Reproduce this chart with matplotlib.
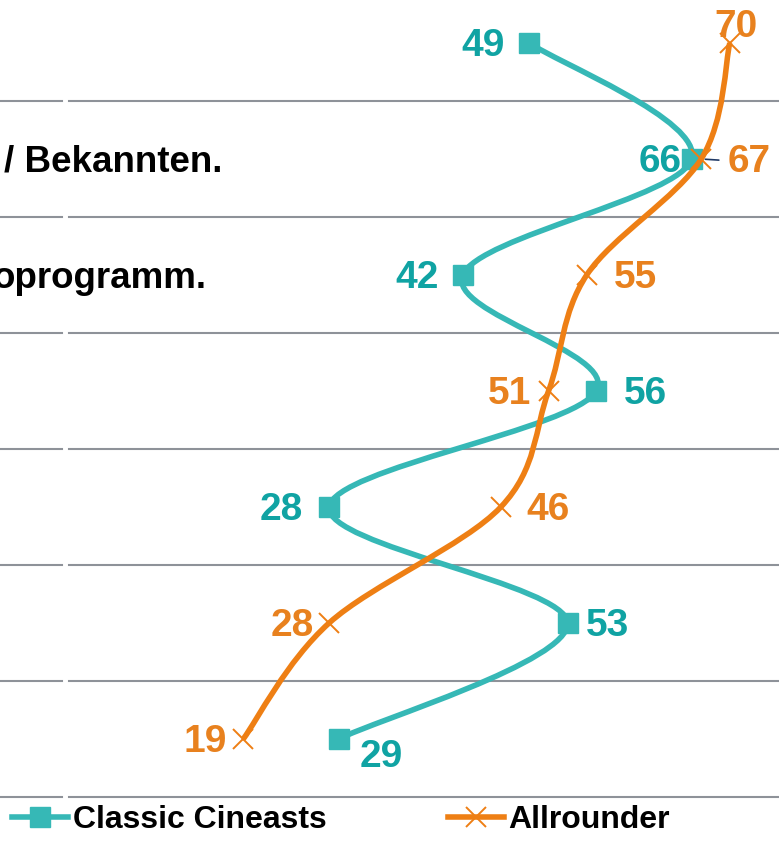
import numpy as np
import matplotlib.pyplot as plt
from matplotlib.path import Path
from matplotlib.patches import PathPatch
from matplotlib.lines import Line2D

plt.rcParams['font.family'] = ['Liberation Sans', 'DejaVu Sans']
plt.rcParams['font.weight'] = 'bold'

# one row per statement, top to bottom
rows = np.arange(7)
classic = [49, 66, 42, 56, 28, 53, 29]
allround = [70, 67, 55, 51, 46, 28, 19]
row_text = {1: "/ Bekannten.", 2: "oprogramm."}
series_names = ["Classic Cineasts", "Allrounder"]

teal_line = "#36B8B6"
teal_text = "#10A3A3"
orange_line = "#EE7F14"
orange_text = "#E8811E"
grid_col = "#8E9299"

W, H = 779, 844
x0_px, px_per = 62, 9.54
row0_px, row_px = 43, 116


def smooth_path(xs, ys):
    # catmull-rom style bezier through the points (like office "smoothed line")
    pts = np.column_stack([xs, ys]).astype(float)
    n = len(pts)
    verts = [pts[0]]
    codes = [Path.MOVETO]
    for i in range(n - 1):
        p0 = pts[max(i - 1, 0)]
        p1 = pts[i]
        p2 = pts[i + 1]
        p3 = pts[min(i + 2, n - 1)]
        verts += [p1 + (p2 - p0) / 6, p2 - (p3 - p1) / 6, p2]
        codes += [Path.CURVE4] * 3
    return Path(verts, codes)


fig = plt.figure(figsize=(W / 100, H / 100), dpi=100)
ax = fig.add_axes([0, 0, 1, 1])
ax.axis("off")
ax.set_xlim(-x0_px / px_per, (W - x0_px) / px_per)
ax.set_ylim((H - row0_px) / row_px, -row0_px / row_px)

for r in rows:
    ax.axhline(r + 0.5, xmin=0, xmax=62 / W, color=grid_col, lw=1.5, zorder=1)
    ax.axhline(r + 0.5, xmin=69 / W, xmax=1, color=grid_col, lw=1.5, zorder=1)

for r, t in row_text.items():
    xr = {1: 222, 2: 207}[r]
    ax.annotate(t, ((xr - x0_px) / px_per, r), xytext=(0, -3),
                textcoords="offset pixels", ha="right", va="center",
                fontsize=26.5, color="black")

ax.add_patch(PathPatch(smooth_path(classic, rows), fill=False,
                       edgecolor=teal_line, lw=4, zorder=3))
ax.plot(classic, rows, ls="none", marker="s", ms=14, color=teal_line, zorder=4)

ax.add_patch(PathPatch(smooth_path(allround, rows), fill=False,
                       edgecolor=orange_line, lw=4, zorder=5))
ax.plot(allround, rows, ls="none", marker="x", ms=14, mew=1.4,
        color=orange_line, zorder=6)

# label offsets in pixels: (dx, dy, ha)
classic_pos = [(-25, -3, "right"), (-10, -3, "right"), (-24, -3, "right"),
               (28, -3, "left"), (-26, -3, "right"), (18, -3, "left"),
               (43, -18, "center")]
allround_pos = [(6, 16, "center"), (26, -3, "left"), (27, -3, "left"),
                (-17, -3, "right"), (26, -3, "left"), (-15, -3, "right"),
                (-16, -3, "right")]

for v, r, (dx, dy, ha) in zip(classic, rows, classic_pos):
    ax.annotate(str(v), (v, r), xytext=(dx, dy), textcoords="offset pixels",
                ha=ha, va="center", fontsize=28, color=teal_text, zorder=7)

for i, (v, r, (dx, dy, ha)) in enumerate(zip(allround, rows, allround_pos)):
    props = None
    if i == 1:
        props = dict(arrowstyle="-", color="#1F3864", lw=1.2,
                     shrinkA=4, shrinkB=3)
    ax.annotate(str(v), (v, r), xytext=(dx, dy), textcoords="offset pixels",
                ha=ha, va="center", fontsize=28, color=orange_text, zorder=7,
                arrowprops=props)

handles = [
    Line2D([], [], color=teal_line, lw=4, marker="s", ms=14),
    Line2D([], [], color=orange_line, lw=4, marker="x", ms=14, mew=1.4),
]
fig.legend(handles, series_names, loc="center left",
           bbox_to_anchor=(12 / W, 1 - 820 / H), ncol=2, frameon=False,
           fontsize=23, handlelength=1.75, handletextpad=0.15,
           columnspacing=3.8, borderpad=0, borderaxespad=0)

fig.savefig("out.png", dpi=100)
